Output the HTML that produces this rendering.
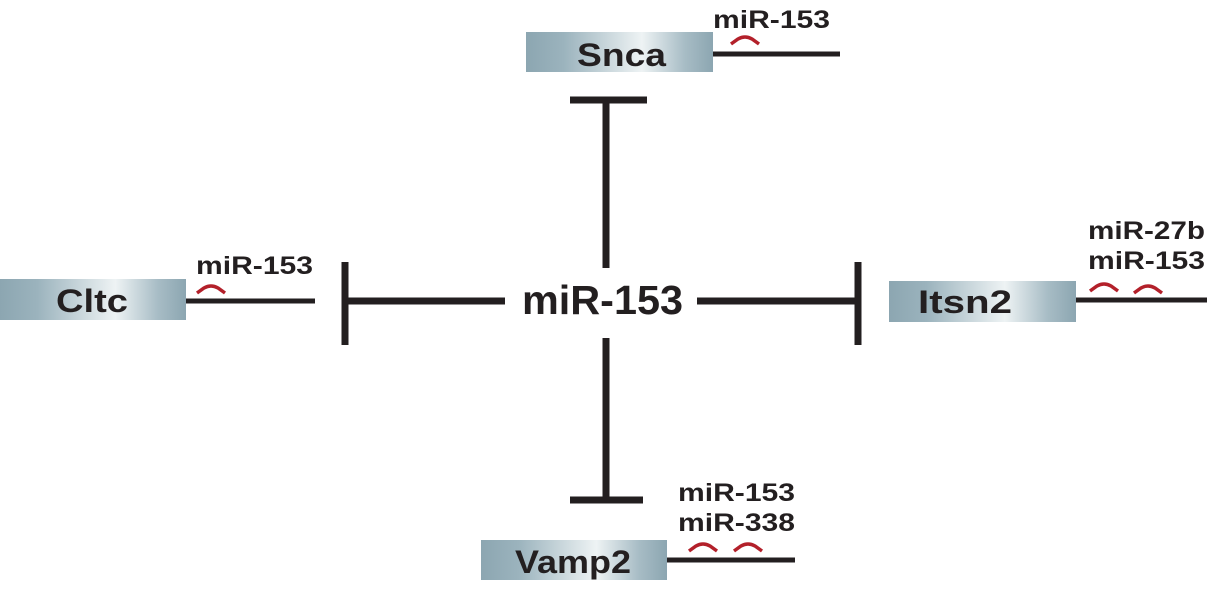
<!DOCTYPE html>
<html><head><style>
body{margin:0;background:#fff;width:1207px;height:590px;overflow:hidden}
</style></head><body>
<svg width="1207" height="590" xmlns="http://www.w3.org/2000/svg" font-family="Liberation Sans, sans-serif" font-weight="bold" fill="#231f20">
<defs>
<linearGradient id="g" x1="0" x2="1" y1="0" y2="0">
<stop offset="0" stop-color="#8ca6b1"/><stop offset="0.2" stop-color="#9bb3bd"/><stop offset="0.62" stop-color="#eef3f4"/><stop offset="0.85" stop-color="#a7bcc5"/><stop offset="1" stop-color="#8ca6b1"/>
</linearGradient>
</defs>
<g stroke="#231f20" stroke-width="7">
<line x1="345" y1="301" x2="505" y2="301"/><line x1="345" y1="262" x2="345" y2="345"/>
<line x1="697" y1="301" x2="858" y2="301"/><line x1="858" y1="262" x2="858" y2="345"/>
<line x1="606" y1="100" x2="606" y2="268"/><line x1="570" y1="100" x2="647" y2="100"/>
<line x1="606" y1="338" x2="606" y2="500"/><line x1="570" y1="500" x2="643" y2="500"/>
</g>
<g stroke="#231f20" stroke-width="5">
<line x1="710" y1="54" x2="840" y2="54"/>
<line x1="184" y1="301" x2="315" y2="301"/>
<line x1="1075" y1="300" x2="1207" y2="300"/>
<line x1="665" y1="560" x2="795" y2="560"/>
</g>
<rect x="526" y="32" width="187" height="40" fill="url(#g)"/>
<rect x="0" y="279" width="186" height="41" fill="url(#g)"/>
<rect x="889" y="281" width="187" height="41" fill="url(#g)"/>
<rect x="481" y="540" width="186" height="40" fill="url(#g)"/>
<g font-size="32" lengthAdjust="spacingAndGlyphs">
<text x="577" y="66" textLength="89" lengthAdjust="spacingAndGlyphs">Snca</text>
<text x="56" y="312" textLength="72" lengthAdjust="spacingAndGlyphs">Cltc</text>
<text x="918" y="313" textLength="94" lengthAdjust="spacingAndGlyphs">Itsn2</text>
<text x="515" y="573" textLength="116" lengthAdjust="spacingAndGlyphs">Vamp2</text>
</g>
<text x="522" y="314" font-size="41" textLength="161" lengthAdjust="spacingAndGlyphs">miR-153</text>
<g font-size="25">
<text x="713" y="28" textLength="117" lengthAdjust="spacingAndGlyphs">miR-153</text>
<text x="196" y="274" textLength="117" lengthAdjust="spacingAndGlyphs">miR-153</text>
<text x="1088" y="239" textLength="117" lengthAdjust="spacingAndGlyphs">miR-27b</text>
<text x="1088" y="269" textLength="117" lengthAdjust="spacingAndGlyphs">miR-153</text>
<text x="678" y="501" textLength="117" lengthAdjust="spacingAndGlyphs">miR-153</text>
<text x="678" y="531" textLength="117" lengthAdjust="spacingAndGlyphs">miR-338</text>
</g>
<g fill="none" stroke="#b3202a" stroke-width="3.5">
<path d="M731 44 L738 39 Q745 35 752 39 L759 44"/>
<path d="M197 293 L204 288 Q211 284 218 288 L225 293"/>
<path d="M1090 291 L1097 286 Q1104 282 1111 286 L1118 291"/>
<path d="M1134 293 L1141 288 Q1148 284 1155 288 L1162 293"/>
<path d="M689 551 L696 546 Q703 542 710 546 L717 551"/>
<path d="M734 551 L741 546 Q748 542 755 546 L762 551"/>
</g>
</svg>
</body></html>
